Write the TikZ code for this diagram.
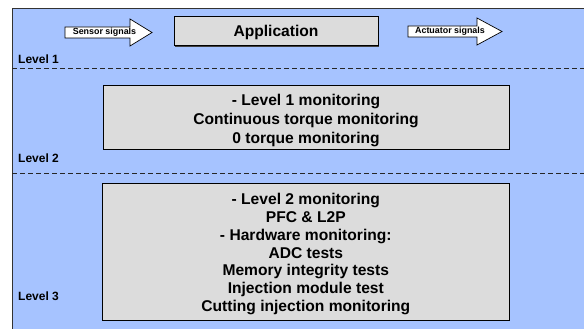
\documentclass[tikz,border=0pt]{standalone}
\usepackage{fontspec}
\setmainfont{Liberation Sans}
\usetikzlibrary{shadows}
\definecolor{bgblue}{HTML}{A6C3FF}
\definecolor{boxgray}{HTML}{DCDCDC}
\begin{document}
\begin{tikzpicture}[x=1pt,y=-1pt,
  graybox/.style={draw=black, line width=0.9pt, fill=boxgray, inner sep=0pt,
    drop shadow={shadow xshift=1.3pt, shadow yshift=-1.3pt, fill=black!75, opacity=1}},
  bigtxt/.style={font=\fontsize{15.6}{18.8}\selectfont\bfseries, align=center, inner sep=0pt},
  lvltxt/.style={font=\fontsize{12}{14}\selectfont\bfseries, anchor=west, inner sep=0pt},
  sigtxt/.style={font=\fontsize{8.9}{10}\selectfont\bfseries, inner sep=0pt},
  sigarrow/.style={draw=black, line width=0.7pt, fill=white, line join=miter},
  levelline/.style={draw=black!85, line width=0.9pt, dash pattern=on 5pt off 3pt}]
\useasboundingbox (0,0) rectangle (584,329);
\fill[white] (0,0) rectangle (584,329);
\draw[fill=bgblue, draw=black!80, line width=1pt] (12,9) rectangle (600,345);
% level separators
\coordinate (l1a) at (12,68.5);
\coordinate (l1b) at (584,68.5);
\coordinate (l2a) at (12,173.5);
\coordinate (l2b) at (584,173.5);
\draw[levelline] (l1a) -- (l1b);
\draw[levelline] (l2a) -- (l2b);
% level labels
\node[lvltxt] (lev1) at (18,59) {Level 1};
\node[lvltxt] (lev2) at (18,158) {Level 2};
\node[lvltxt] (lev3) at (18,296) {Level 3};
% signal arrows
\draw[sigarrow] (65,27) -- (130,27) -- (130,19) -- (152,32.5) -- (130,46) -- (130,38) -- (65,38) -- cycle;
\node[sigtxt] (sensor) at (104.5,32.5) {Sensor signals};
\draw[sigarrow] (408,26) -- (477,26) -- (477,18) -- (502,31.5) -- (477,45) -- (477,37) -- (408,37) -- cycle;
\node[sigtxt] (actuator) at (450,31.5) {Actuator signals};
% boxes
\node[graybox, minimum width=204pt, minimum height=29pt] (app) at (276,31) {};
\node[bigtxt, anchor=base] (apptxt) at (276,36.7) {Application};
\node[graybox, minimum width=406pt, minimum height=63.5pt] (lvl2box) at (306,117.3) {};
\node[bigtxt, anchor=base] (lvl2txt) at (306,143)
  {- Level 1 monitoring\\Continuous torque monitoring\\0 torque monitoring};
\node[graybox, minimum width=406.5pt, minimum height=137pt] (lvl3box) at (305.8,251.5) {};
\node[bigtxt, anchor=base, font=\fontsize{15.6}{17.9}\selectfont\bfseries] (lvl3txt) at (305.8,311.7)
  {- Level 2 monitoring\\PFC \& L2P\\- Hardware monitoring:\\ADC tests\\Memory integrity tests\\Injection module test\\Cutting injection monitoring};
\end{tikzpicture}
\end{document}
